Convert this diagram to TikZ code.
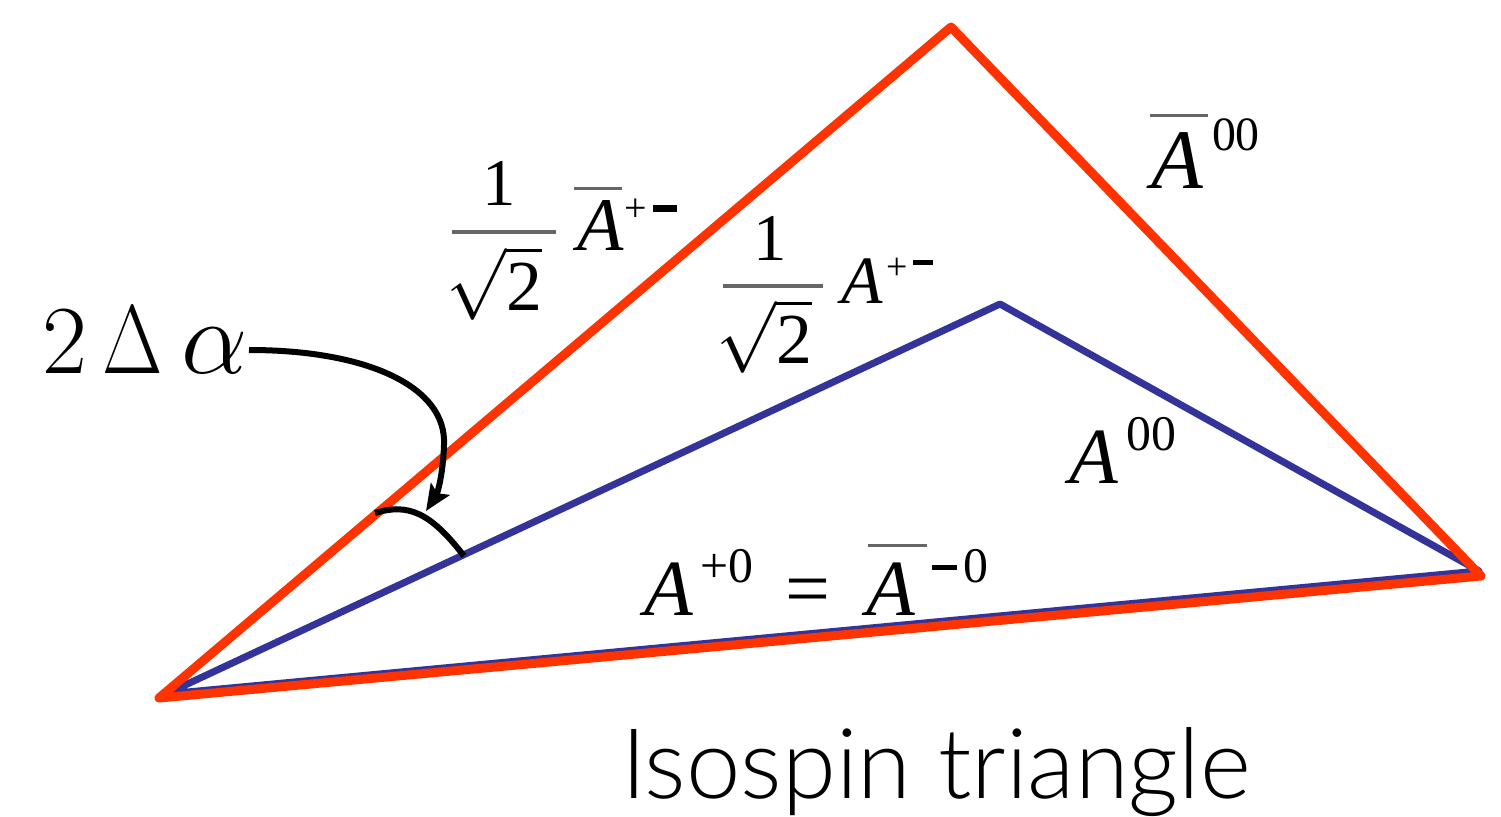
\RequirePackage{fix-cm}
\documentclass[tikz,border=0pt]{standalone}
\usepackage{fontspec}
\newfontfamily\tms{Liberation Serif}
\IfFontExistsTF{Lato Light}{\newfontfamily\hel{Lato Light}}{\newfontfamily\hel{TeX Gyre Heros}}
\usetikzlibrary{arrows.meta}
\definecolor{tred}{RGB}{255,51,0}
\definecolor{tblue}{RGB}{51,51,153}
\definecolor{bargray}{gray}{0.4}
\newcommand{\fs}[1]{\fontsize{#1}{#1}\selectfont}
\newcommand{\barA}[4]{\rlap{\kern#1bp\raisebox{#2bp}{\color{bargray}\rule{#3bp}{#4bp}}}\textit{A}}
% fraction 1/sqrt2: width, shift of 1, right gap of sqrt, gap 1-to-bar, gap bar-to-2
\newcommand{\isofrac}[5]{\vbox{\offinterlineskip
  \hbox to #1bp{\hss\fs{67}1\hss\kern#2bp}%
  \kern#4bp
  \hbox{\color{bargray}\rule{#1bp}{3.5bp}}%
  \kern#5bp
  \hbox to #1bp{\hss\smash{\fs{72}$\sqrt{\hbox{2}}$}\kern#3bp}}}
\tikzset{
  redline/.style={draw=tred, line width=9bp, line join=round},
  blueline/.style={draw=tblue, line width=7bp, line join=round},
  lab/.style={inner sep=0pt, outer sep=0pt, anchor=base west},
  blackline/.style={draw=black, line width=6bp},
}
\begin{document}
\begin{tikzpicture}[x=1bp, y=-1bp]
\useasboundingbox (0,0) rectangle (1501,816);
% vertices
\coordinate (L) at (159,698);
\coordinate (T) at (951,27);
\coordinate (R) at (1481,576);
\coordinate (Lb) at (166,694);
\coordinate (B) at (1000,304);
\coordinate (Rb) at (1479,571);
% triangles
\draw[blueline] (Lb) -- (B) -- (Rb) -- cycle;
\draw[redline] (L) -- (T) -- (R) -- cycle;
% angle arc
\coordinate (arcA) at (375,513);
\coordinate (arcB) at (464,556);
\draw[blackline] (arcA) .. controls (408,503) and (430,512) .. (arcB);
% 2 Delta alpha label and arrow
\node[lab] (dalpha) at (42,373) {\fs{98}$2\kern16bp\scalebox{0.8}[1]{$\Delta$}\kern18bp\scalebox{1.08}{$\alpha$}$};
\coordinate (arrS) at (249,350);
\coordinate (arrM) at (444,445);
\coordinate (arrE) at (426,511);
\draw[blackline, -{Stealth[length=26bp,width=22bp,inset=5bp]}] (arrS) .. controls (370,350) and (447,388) .. (arrM) .. controls (443,476) and (437,494) .. (arrE);
% label 1: 1/sqrt2 Abar+-
\node[lab] (frac1) at (452,310) {\tms\isofrac{104}{10}{14}{25.25}{76.25}};
\node[lab] (abarpm) at (577,250) {\fs{76}\tms\barA{-3}{60}{48}{3.5}\kern0.5bp\raisebox{29bp}{\fs{40}+}\kern7bp\raisebox{38bp}{\rule{24bp}{7bp}}};
% label 2: 1/sqrt2 A+-
\node[lab] (frac2) at (723,363) {\tms\isofrac{100}{6}{11}{24.25}{75.25}};
\node[lab] (apm) at (841.5,303) {\fs{68}\tms\textit{A}\kern3bp\raisebox{23.4bp}{\fs{38}+}\kern5.5bp\raisebox{38bp}{\rule{20bp}{5bp}}};
% Abar00
\node[lab] (abar00) at (1151,188) {\fs{85}\tms\barA{-1}{71}{58}{3.5}\kern9bp\raisebox{38bp}{\fs{48}00}};
% A00
\node[lab] (a00) at (1069,483) {\fs{80}\tms\textit{A}\kern9bp\raisebox{33bp}{\fs{50}00}};
% A+0 = Abar-0
\node[lab] (aeq) at (644,615) {\fs{80}\tms\textit{A}\kern7.5bp\raisebox{33bp}{\fs{50}+0}\kern32bp=\kern36.5bp\barA{1}{68}{59}{3.5}\kern16bp\raisebox{45.5bp}{\rule{25bp}{5bp}}\kern7bp\raisebox{33bp}{\fs{50}0}};
% title
\node[lab] (title) at (621,798) {\hel\fs{98}Isospin triangle};
\end{tikzpicture}
\end{document}
